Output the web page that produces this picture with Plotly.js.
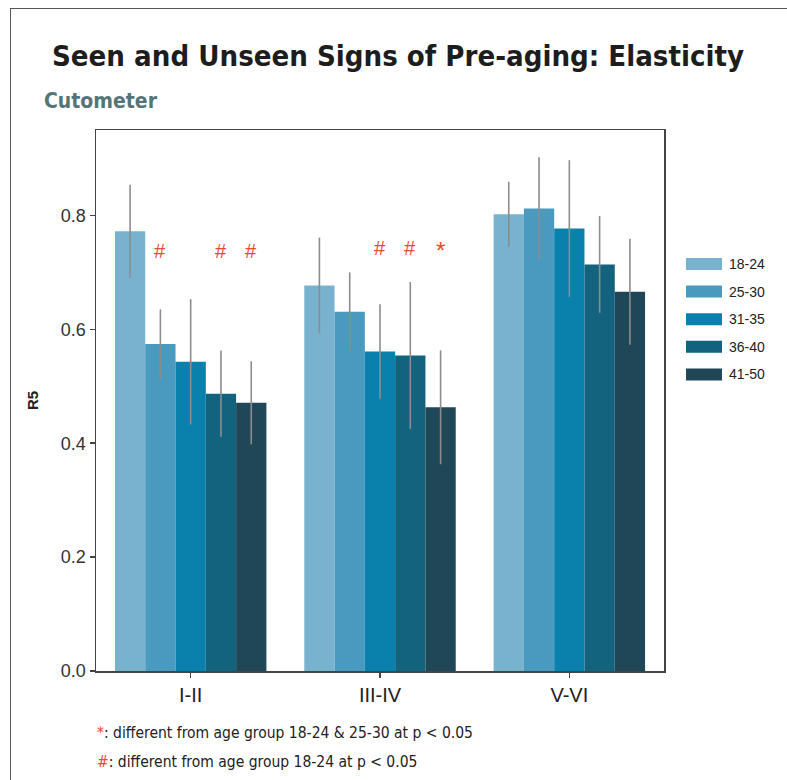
<!DOCTYPE html>
<html>
<head>
<meta charset="utf-8">
<script src="https://cdn.plot.ly/plotly-3.0.1.min.js"></script>
<style>
  html, body { margin: 0; padding: 0; background: #fff; }
  #wrap { position: relative; width: 787px; height: 780px; }
  #chart { position: absolute; left: 0; top: 0; width: 787px; height: 780px; }
  #frame { position: absolute; left: 10px; top: 8px; width: 790px; height: 790px;
           border-left: 1.5px solid #555; border-top: 1.5px solid #555; pointer-events: none; }
</style>
</head>
<body>
<div id="wrap">
  <div id="chart"></div>
  <div id="frame"></div>
</div>
<script>
// ---- Data ----
const categories = ["I-II", "III-IV", "V-VI"];
const ageGroups = ["18-24", "25-30", "31-35", "36-40", "41-50"];
const colors = ["#78b2cf", "#4a9ac0", "#0a80ad", "#13637f", "#1f4757"];

// mean R5 per age group across skin-type categories
const r5_18_24 = [0.772, 0.677, 0.802];
const r5_25_30 = [0.574, 0.631, 0.812];
const r5_31_35 = [0.543, 0.561, 0.777];
const r5_36_40 = [0.487, 0.554, 0.714];
const r5_41_50 = [0.471, 0.463, 0.666];

// standard deviation (error bars)
const sd_18_24 = [0.082, 0.084, 0.057];
const sd_25_30 = [0.061, 0.069, 0.090];
const sd_31_35 = [0.110, 0.083, 0.120];
const sd_36_40 = [0.076, 0.129, 0.085];
const sd_41_50 = [0.073, 0.100, 0.093];

// significance markers per category (one per age group) and their height
const sig_I_II   = ["", "#", "", "#", "#"];
const sig_III_IV = ["", "", "#", "#", "*"];
const sig_V_VI   = ["", "", "", "", ""];
const sigHeight  = [0.737, 0.743, 0.74];

const yTicks = [0.0, 0.2, 0.4, 0.6, 0.8];
const yTickText = ["0.0", "0.2", "0.4", "0.6", "0.8"];

const means = [r5_18_24, r5_25_30, r5_31_35, r5_36_40, r5_41_50];
const sds = [sd_18_24, sd_25_30, sd_31_35, sd_36_40, sd_41_50];
const sigs = [sig_I_II, sig_III_IV, sig_V_VI];

const RED = "#ea4a33";
const FONT = "Liberation Sans, Arial, sans-serif";
const NARROW = "DejaVu Sans Condensed, DejaVu Sans, sans-serif";

const xIdx = categories.map((c, i) => i);

const traces = ageGroups.map((g, k) => ({
  type: "bar",
  name: g,
  x: xIdx,
  y: means[k],
  marker: { color: colors[k], line: { width: 0 } },
  error_y: { type: "data", array: sds[k], visible: true, color: "#8c8c8c", thickness: 1.6, width: 0 },
  showlegend: false,
  hoverinfo: "y"
}));

const bargap = 0.2;
const barW = (1 - bargap) / ageGroups.length;

const annotations = [];
// significance markers
sigs.forEach((row, i) => {
  row.forEach((s, k) => {
    if (!s) return;
    annotations.push({
      xref: "x", yref: "y",
      x: i - (1 - bargap) / 2 + barW * (k + 0.5),
      y: sigHeight[i],
      text: s, showarrow: false,
      font: { family: FONT, size: s === "*" ? 24 : 20, color: RED },
      yanchor: "middle", xanchor: "center",
      yshift: s === "*" ? -3 : 0
    });
  });
});

// plot geometry helpers (paper coords)
const L = 96, R = 664, T = 130, B = 671;
const pxX = px => (px - L) / (R - L);
const pxY = py => (B - py) / (B - T);

// subtitle
annotations.push({
  xref: "paper", yref: "paper", x: pxX(42), y: pxY(101),
  xanchor: "left", yanchor: "middle", showarrow: false,
  text: "<b>Cutometer</b>",
  font: { family: NARROW, size: 21, color: "#557475" }
});

// footnotes
annotations.push({
  xref: "paper", yref: "paper", x: pxX(95), y: pxY(733),
  xanchor: "left", yanchor: "middle", showarrow: false,
  text: '<span style="color:' + RED + '">*</span>: different from age group 18-24 &amp; 25-30 at p &lt; 0.05',
  font: { family: NARROW, size: 15.5, color: "#222" }
});
annotations.push({
  xref: "paper", yref: "paper", x: pxX(95), y: pxY(762),
  xanchor: "left", yanchor: "middle", showarrow: false,
  text: '<span style="color:' + RED + '">#</span>: different from age group 18-24 at p &lt; 0.05',
  font: { family: NARROW, size: 15.5, color: "#222" }
});

// custom legend
const shapes = [];
const legTop = 264, legStep = 27.6;
ageGroups.forEach((g, k) => {
  const cy = legTop + k * legStep;
  shapes.push({
    type: "rect", xref: "paper", yref: "paper",
    x0: pxX(686), x1: pxX(722), y0: pxY(cy + 6), y1: pxY(cy - 6),
    fillcolor: colors[k], line: { width: 0 }
  });
  annotations.push({
    xref: "paper", yref: "paper", x: pxX(727), y: pxY(cy),
    xanchor: "left", yanchor: "middle", showarrow: false,
    text: g, font: { family: FONT, size: 14, color: "#222" }
  });
});

const layout = {
  width: 787, height: 780,
  margin: { l: L, r: 787 - R, t: T, b: 780 - B, pad: 0 },
  paper_bgcolor: "#fff", plot_bgcolor: "#fff",
  barmode: "group", bargap: bargap, bargroupgap: 0,
  title: {
    text: "<b>Seen and Unseen Signs of Pre-aging: Elasticity</b>",
    xref: "container", yref: "container",
    x: 52 / 787, xanchor: "left",
    y: 1 - 56 / 780, yanchor: "middle",
    font: { family: NARROW, size: 29.1, color: "#1d1d1d" }
  },
  xaxis: {
    range: [-0.5, 2.5],
    tickmode: "array", tickvals: xIdx, ticktext: categories,
    ticks: "outside", ticklen: 5, tickwidth: 1.5, tickcolor: "#444",
    showline: true, linecolor: "#444", linewidth: 1.5, mirror: true,
    showgrid: false, zeroline: false,
    tickfont: { family: FONT, size: 20, color: "#222" }
  },
  yaxis: {
    range: [0, 0.95],
    tickmode: "array", tickvals: yTicks, ticktext: yTickText,
    ticks: "outside", ticklen: 5, tickwidth: 1.5, tickcolor: "#444",
    showline: true, linecolor: "#444", linewidth: 1.5, mirror: true,
    showgrid: false, zeroline: false,
    tickfont: { family: FONT, size: 18, color: "#333" },
    title: { text: "<b>R5</b>", font: { family: FONT, size: 15, color: "#222" }, standoff: 18 }
  },
  annotations: annotations,
  shapes: shapes
};

Plotly.newPlot("chart", traces, layout, { displayModeBar: false, staticPlot: true });
</script>
</body>
</html>
